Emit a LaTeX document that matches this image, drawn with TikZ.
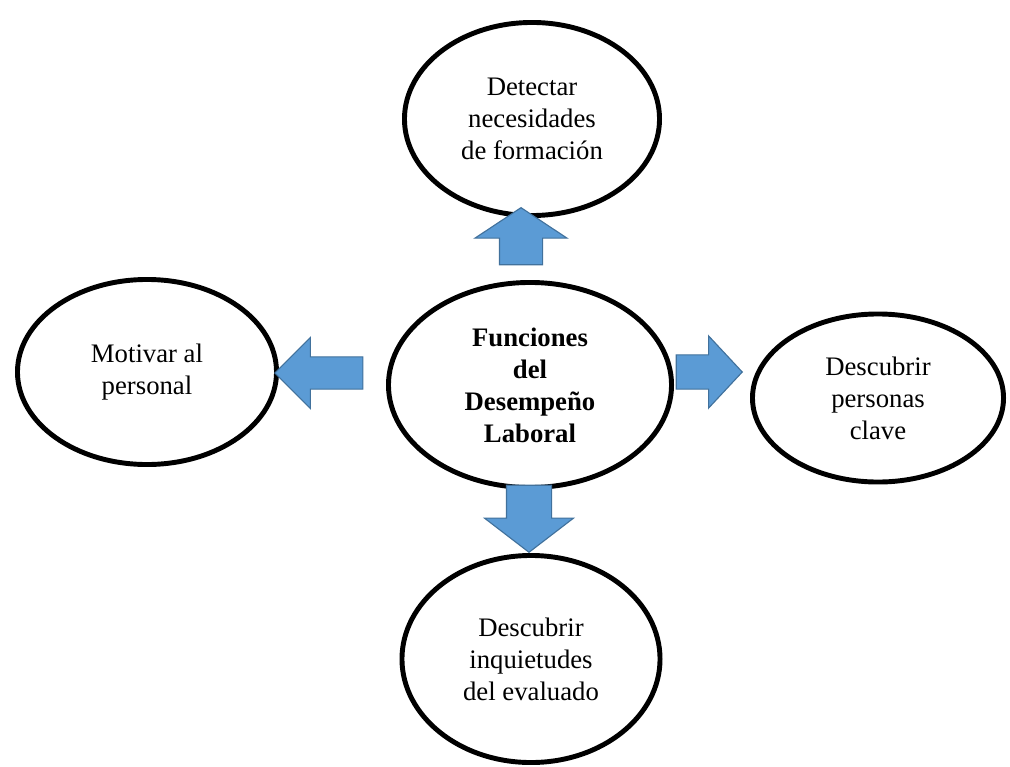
\documentclass[tikz,border=0pt]{standalone}
\usepackage{fontspec}
\setmainfont{Liberation Serif}
\usetikzlibrary{shapes.geometric,shapes.arrows}
\definecolor{flechaazul}{HTML}{5B9BD5}
\definecolor{flechaborde}{HTML}{41719C}

\begin{document}
\begin{tikzpicture}[x=0.025cm, y=-0.025cm,
    funcion/.style={draw, ellipse, line width=3.5pt, inner sep=0pt, align=center,
        font=\fontsize{19}{22.8}\selectfont},
    flecha/.style={single arrow, draw=flechaborde, fill=flechaazul, line width=0.8pt,
        inner xsep=0pt, minimum width=0pt, anchor=tip}]
    \useasboundingbox (0,0) rectangle (1010,767);
    % elipses
    \node[funcion, minimum width=7.075cm, minimum height=5.125cm,
        font=\fontsize{19}{22.8}\selectfont\bfseries] (centro) at (530,385) {Funciones\\del\\Desempeño\\Laboral};
    \node[funcion, minimum width=6.375cm, minimum height=4.825cm] (formacion) at (532,119) {Detectar\\necesidades\\de formación};
    \node[funcion, minimum width=6.475cm, minimum height=4.625cm] (motivar) at (147,372) {Motivar al\\personal};
    \node[funcion, minimum width=6.275cm, minimum height=4.2cm] (clave) at (878,398) {Descubrir\\personas\\clave};
    \node[funcion, minimum width=6.45cm, minimum height=5.175cm] (inquietudes) at (531,659) {Descubrir\\inquietudes\\del evaluado};
    % flechas
    \node[flecha, rotate=90, minimum height=1.425cm, inner ysep=0.525cm,
        single arrow head extend=0.6125cm, single arrow tip angle=113] (fformacion) at (521,207) {};
    \node[flecha, rotate=180, minimum height=2.2cm, inner ysep=0.3875cm,
        single arrow head extend=0.4875cm, single arrow tip angle=90] (fmotivar) at (274,373) {};
    \node[flecha, minimum height=1.65cm, inner ysep=0.4125cm,
        single arrow head extend=0.475cm, single arrow tip angle=94] (fclave) at (743,372) {};
    \node[flecha, rotate=-90, minimum height=1.675cm, inner ysep=0.55cm,
        single arrow head extend=0.55cm, single arrow tip angle=105] (finquietudes) at (529,553) {};
\end{tikzpicture}
\end{document}
